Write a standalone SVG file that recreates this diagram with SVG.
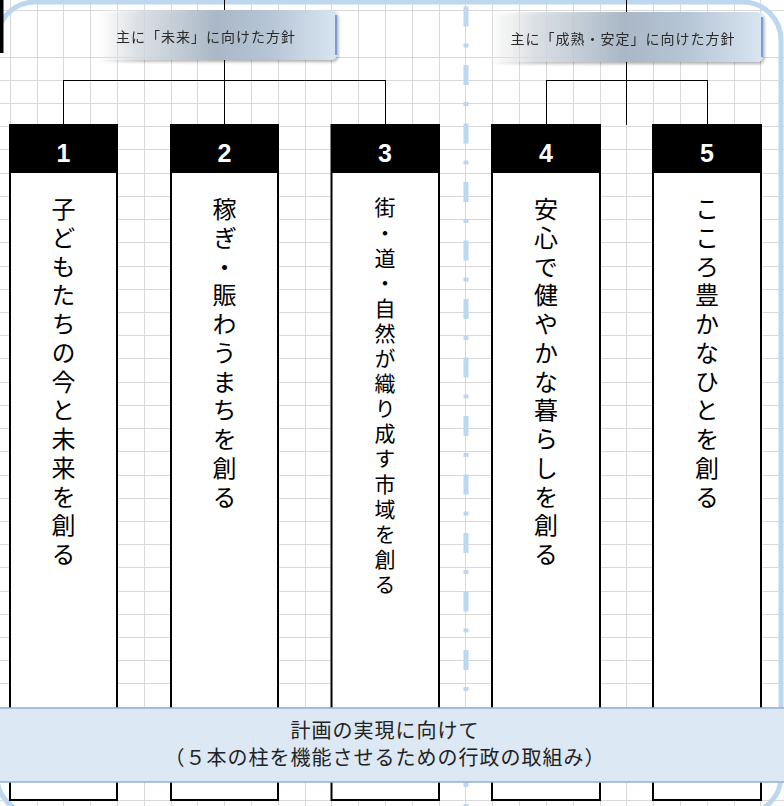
<svg xmlns="http://www.w3.org/2000/svg" width="784" height="806" viewBox="0 0 784 806">
<style>
.grid{stroke:#d9d9d9;stroke-width:1;fill:none}
.frame{fill:none;stroke:#bdd7ee;stroke-width:5}
.divider{stroke:#bdd7ee;stroke-width:5;stroke-dasharray:20 17 4 17.5;stroke-dashoffset:-6.5;fill:none}
.conn{stroke:#000;stroke-width:1;fill:none}
.box{fill:#fff;stroke:#000;stroke-width:2}
.head{fill:#000}
.num{font-family:"Liberation Sans",Arial,sans-serif;font-weight:bold;font-size:25px;fill:#fff;text-anchor:middle}
.v{font-family:"Noto Sans CJK JP",sans-serif;writing-mode:vertical-rl;text-orientation:upright;fill:#000}
.v1{font-size:24px;letter-spacing:4.75px}
.v3{font-size:21px;letter-spacing:4.1px}
.lbl{font-family:"Noto Sans CJK JP",sans-serif;font-size:14px;letter-spacing:1px;fill:#2a2a2a;text-anchor:middle}
.banner{fill:#dde8f5;stroke:#93b1d2;stroke-width:1.5}
.btxt{font-family:"Noto Sans CJK JP",sans-serif;font-size:20px;letter-spacing:1px;fill:#222;text-anchor:middle}
</style>
<defs>
<linearGradient id="lg" x1="0" y1="0" x2="1" y2="0">
<stop offset="0" stop-color="#ffffff" stop-opacity="0"/>
<stop offset="0.18" stop-color="#d9dfe5" stop-opacity="0.8"/>
<stop offset="0.5" stop-color="#a9b7c6"/>
<stop offset="0.72" stop-color="#b6c5d5"/>
<stop offset="1" stop-color="#d8e5f2"/>
</linearGradient>
<filter id="sh" x="-10%" y="-20%" width="130%" height="160%">
<feDropShadow dx="1.5" dy="2" stdDeviation="1.8" flood-color="#000" flood-opacity="0.3"/>
</filter>
</defs>
<rect width="784" height="806" fill="#fff"/>
<path class="grid" d="M10.5 0V806M37.5 0V806M63.5 0V806M90.5 0V806M117.5 0V806M144.5 0V806M171.5 0V806M197.5 0V806M224.5 0V806M251.5 0V806M278.5 0V806M305.5 0V806M331.5 0V806M358.5 0V806M385.5 0V806M412.5 0V806M439.5 0V806M465.5 0V806M492.5 0V806M519.5 0V806M546.5 0V806M573.5 0V806M600.5 0V806M626.5 0V806M653.5 0V806M680.5 0V806M707.5 0V806M734.5 0V806M760.5 0V806
M0 10.5H784M0 57.5H784M0 80.5H784M0 103.5H784M0 126.5H784M0 149.5H784M0 173.5H784M0 196.5H784M0 219.5H784M0 242.5H784M0 266.5H784M0 289.5H784M0 312.5H784M0 335.5H784M0 358.5H784M0 382.5H784M0 405.5H784M0 428.5H784M0 451.5H784M0 475.5H784M0 498.5H784M0 521.5H784M0 544.5H784M0 567.5H784M0 591.5H784M0 614.5H784M0 637.5H784M0 660.5H784M0 683.5H784M0 707.5H784M0 730.5H784M0 753.5H784M0 776.5H784M0 800.5H784"/>
<rect class="frame" x="-3" y="2" width="784" height="812" rx="38" ry="38"/>
<path class="divider" d="M466 0V806"/>
<rect x="0" y="0" width="3.5" height="53" fill="#000"/>
<g id="connectors">
<path class="conn" d="M224.5 0V125M63.5 80.5H385.5M63.5 80V125M385.5 80V125"/>
<path class="conn" d="M626.5 0V125M546.5 80.5H707.5M546.5 80V125M707.5 80V125"/>
</g>
<g id="label-future" filter="url(#sh)">
<rect x="95" y="10" width="242" height="50" rx="6" fill="url(#lg)"/>
<path d="M336 15V55" stroke="#5b86c6" stroke-width="1.5"/>
<text class="lbl" x="206" y="42">主に「未来」に向けた方針</text>
</g>
<g id="label-mature" filter="url(#sh)">
<rect x="486" y="12" width="277" height="50" rx="6" fill="url(#lg)"/>
<path d="M762 17V57" stroke="#5b86c6" stroke-width="1.5"/>
<text class="lbl" x="623" y="44">主に「成熟・安定」に向けた方針</text>
</g>
<g id="pillar1">
<rect class="box" x="10" y="125" width="107" height="675"/>
<rect class="head" x="10" y="125" width="107" height="48"/>
<text class="num" x="63.5" y="162">1</text>
<text class="v v1" x="63.5" y="197">子どもたちの今と未来を創る</text>
</g>
<g id="pillar2">
<rect class="box" x="171" y="125" width="107" height="675"/>
<rect class="head" x="171" y="125" width="107" height="48"/>
<text class="num" x="224.5" y="162">2</text>
<text class="v v1" x="224.5" y="197">稼ぎ・賑わうまちを創る</text>
</g>
<g id="pillar3">
<rect class="box" x="331.5" y="125" width="107.5" height="675"/>
<rect class="head" x="331.5" y="125" width="107.5" height="48"/>
<text class="num" x="385" y="162">3</text>
<text class="v v3" x="385" y="197">街・道・自然が織り成す市域を創る</text>
</g>
<g id="pillar4">
<rect class="box" x="492" y="125" width="108" height="675"/>
<rect class="head" x="492" y="125" width="108" height="48"/>
<text class="num" x="546" y="162">4</text>
<text class="v v1" x="546" y="197">安心で健やかな暮らしを創る</text>
</g>
<g id="pillar5">
<rect class="box" x="653" y="125" width="108" height="675"/>
<rect class="head" x="653" y="125" width="108" height="48"/>
<text class="num" x="707" y="162">5</text>
<text class="v v1" x="707" y="197">こころ豊かなひとを創る</text>
</g>
<g id="banner">
<rect class="banner" x="-2" y="708" width="788" height="74"/>
<text class="btxt" x="385" y="738">計画の実現に向けて</text>
<text class="btxt" x="385" y="765">（５本の柱を機能させるための行政の取組み）</text>
</g>
</svg>
